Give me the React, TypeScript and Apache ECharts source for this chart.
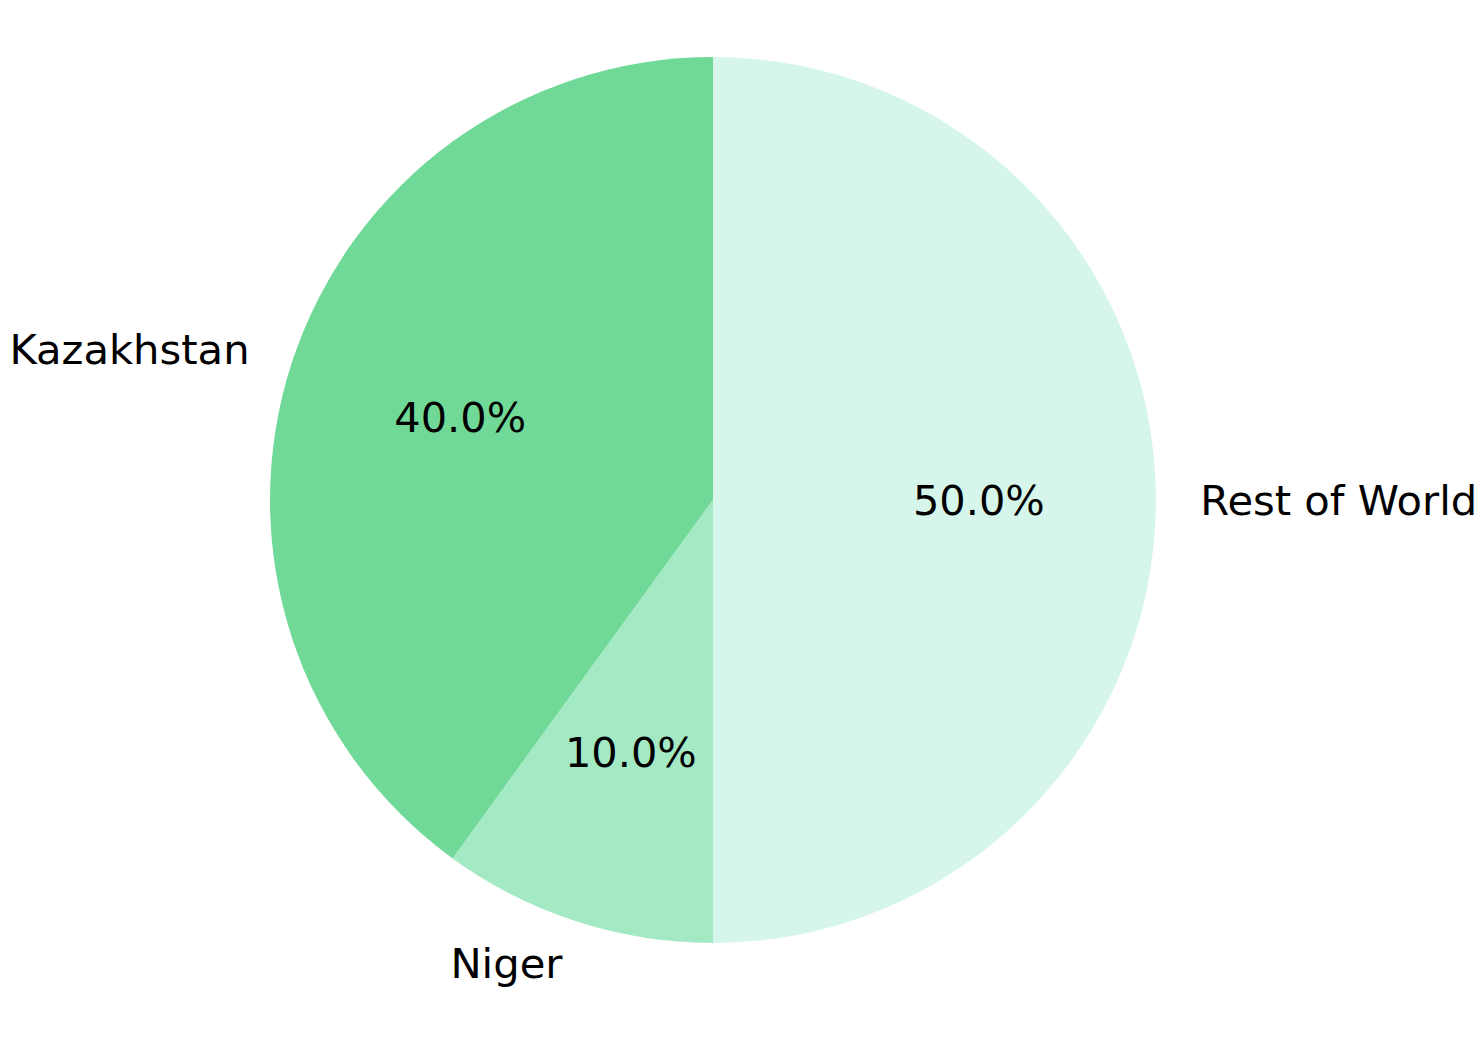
import React, { useEffect, useRef } from "react";
import * as echarts from "echarts";

const categories = ["Kazakhstan", "Niger", "Rest of World"];
const values = [40, 10, 50];
const colors = ["#71d998", "#a2e9c4", "#d6f6eb"];

const W = 1484;
const H = 1054;
const CX = 713;
const CY = 500;
const R = 443;
const FONT = "'DejaVu Sans', sans-serif";

export default function App() {
  const ref = useRef<HTMLDivElement>(null);

  useEffect(() => {
    if (!ref.current) return;
    const chart = echarts.init(ref.current, undefined, { renderer: "svg", width: W, height: H });
    const data = categories.map((name, i) => ({
      name,
      value: values[i],
      itemStyle: { color: colors[i] },
    }));
    const total = values.reduce((a, b) => a + b, 0);
    chart.setOption({
      animation: false,
      backgroundColor: "#ffffff",
      series: [
        {
          type: "pie",
          center: [CX, CY],
          radius: [0, R],
          startAngle: 90,
          clockwise: false,
          avoidLabelOverlap: false,
          silent: true,
          data,
          label: {
            show: true,
            position: "outside",
            formatter: "{b}",
            color: "#000",
            fontFamily: FONT,
            fontSize: 41.7,
            distanceToLabelLine: 0,
          },
          labelLine: { show: false, length: R * 0.1, length2: 0 },
          itemStyle: { borderWidth: 0 },
        },
        {
          type: "pie",
          center: [CX, CY],
          radius: [0, R * 1.2 - 6],
          startAngle: 90,
          clockwise: false,
          avoidLabelOverlap: false,
          silent: true,
          z: 5,
          data: categories.map((name, i) => ({ name, value: values[i] })),
          itemStyle: { color: "rgba(0,0,0,0)", borderWidth: 0 },
          label: {
            show: true,
            position: "inside",
            formatter: (p: any) => ((p.value / total) * 100).toFixed(1) + "%",
            color: "#000",
            fontFamily: FONT,
            fontSize: 41.5,
          },
          labelLine: { show: false },
        },
      ],
    });
    return () => chart.dispose();
  }, []);

  return (
    <div
      ref={ref}
      style={{ position: "fixed", left: 0, top: 0, width: W, height: H, background: "#fff" }}
    />
  );
}
